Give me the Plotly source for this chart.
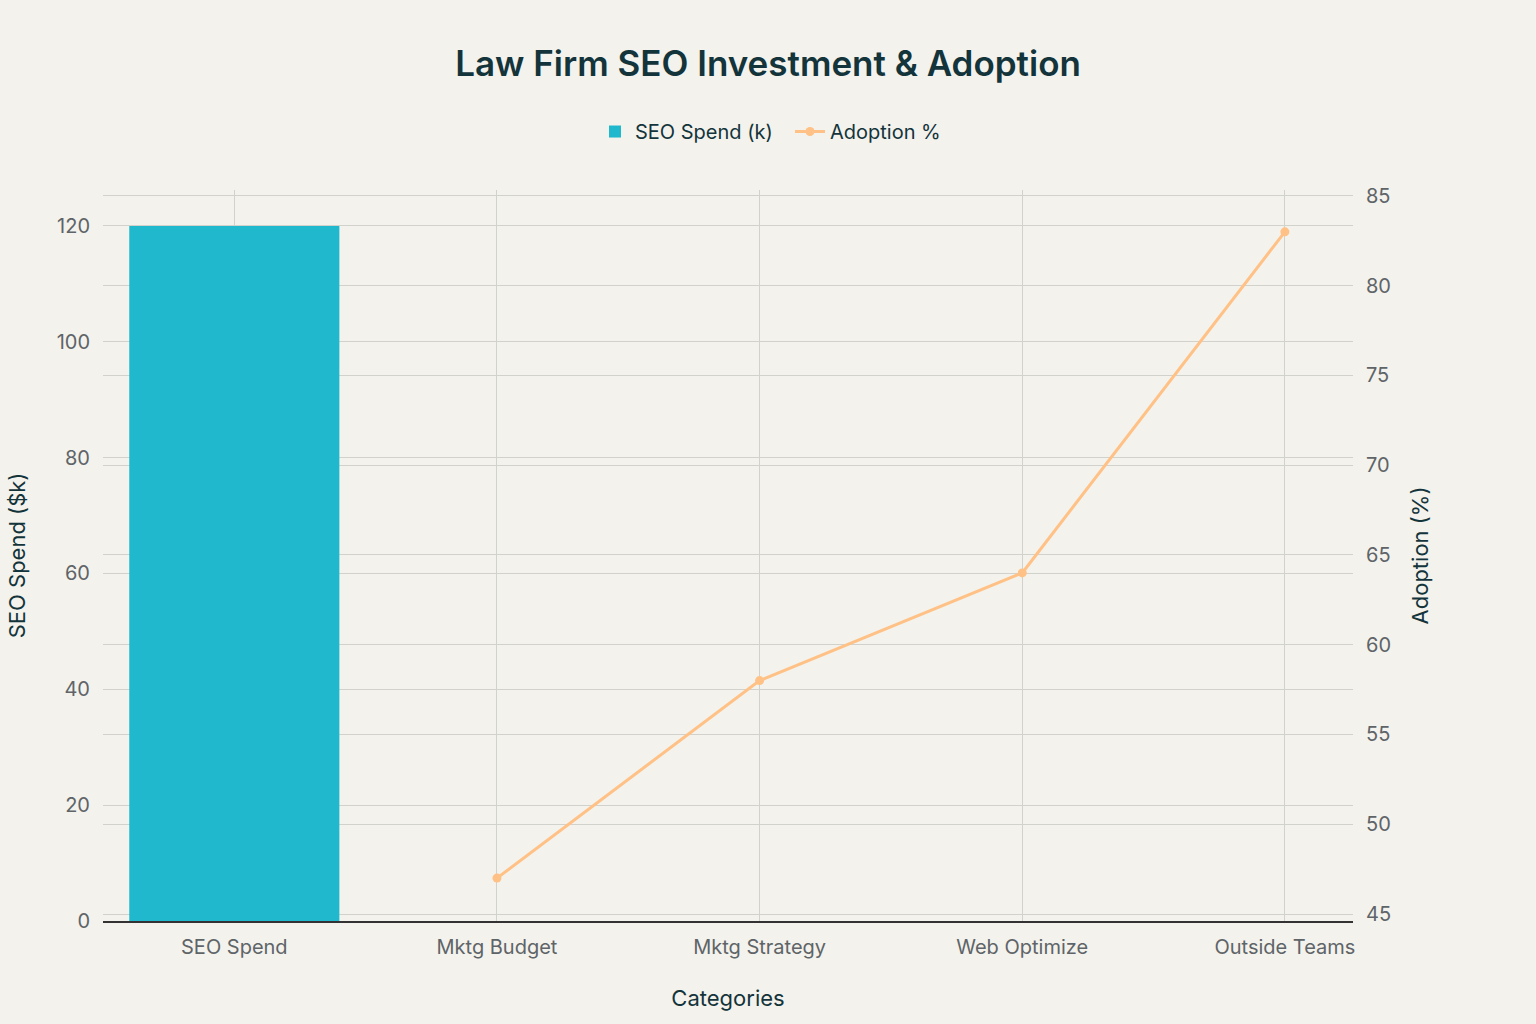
import plotly.graph_objects as go

categories = ["SEO Spend", "Mktg Budget", "Mktg Strategy", "Web Optimize", "Outside Teams"]
bar_categories = ["SEO Spend"]
seo_spend = [120]
line_categories = ["Mktg Budget", "Mktg Strategy", "Web Optimize", "Outside Teams"]
adoption = [47, 58, 64, 83]

FONT = "Inter, Open Sans, sans-serif"
TICK = "#5E6468"
fig = go.Figure()
fig.add_trace(go.Bar(x=bar_categories, y=seo_spend, name="SEO Spend (k)",
                     marker=dict(color="#1FB8CD", line=dict(width=0)), yaxis="y"))
fig.add_trace(go.Scatter(x=line_categories, y=adoption, name="Adoption %", mode="lines+markers",
                         line=dict(color="#FFC185", width=3), marker=dict(size=9, color="#FFC185"),
                         yaxis="y2"))

fig.update_layout(
    width=1536, height=1024,
    paper_bgcolor="#F3F2EC", plot_bgcolor="#F3F2EC",
    font=dict(family=FONT, color="#13343B", size=18),
    title=dict(text="Law Firm SEO Investment & Adoption", x=0.5, xanchor="center", y=0.938, yanchor="middle",
               font=dict(size=35, color="#13343B", family=FONT, weight=600)),
    legend=dict(orientation="h", x=0.5496, xanchor="center", y=1.080, yanchor="middle",
                font=dict(size=20, color="#13343B"), bgcolor="rgba(0,0,0,0)", entrywidth=150),
    margin=dict(l=103, r=183, t=190, b=103),
    bargap=0.2,
    xaxis=dict(categoryorder="array", categoryarray=categories, showgrid=True, gridcolor="#D2D2CC",
               showline=True, linecolor="#333", linewidth=1.5, ticks="outside", ticklen=7,
               tickcolor="rgba(0,0,0,0)",
               tickfont=dict(size=20, color=TICK),
               title=dict(text="Categories", font=dict(size=22, color="#13343B"), standoff=33)),
    yaxis=dict(range=[0, 126.2], dtick=20, showgrid=True, gridcolor="#D2D2CC", zeroline=False,
               ticks="outside", ticklen=8, tickcolor="rgba(0,0,0,0)",
               tickfont=dict(size=20, color=TICK),
               title=dict(text="SEO Spend ($k)", font=dict(size=22, color="#13343B"), standoff=24)),
    yaxis2=dict(range=[44.61, 85.33], dtick=5, overlaying="y", side="right", showgrid=True,
                gridcolor="#D2D2CC", zeroline=False, ticks="outside", ticklen=8,
                tickcolor="rgba(0,0,0,0)", tickfont=dict(size=20, color=TICK),
                title=dict(text="Adoption (%)", font=dict(size=22, color="#13343B"), standoff=22)),
)
fig.write_html("out.html", config={"displayModeBar": False},
               post_script="document.body.style.margin='0';document.body.style.background='#F3F2EC';")
